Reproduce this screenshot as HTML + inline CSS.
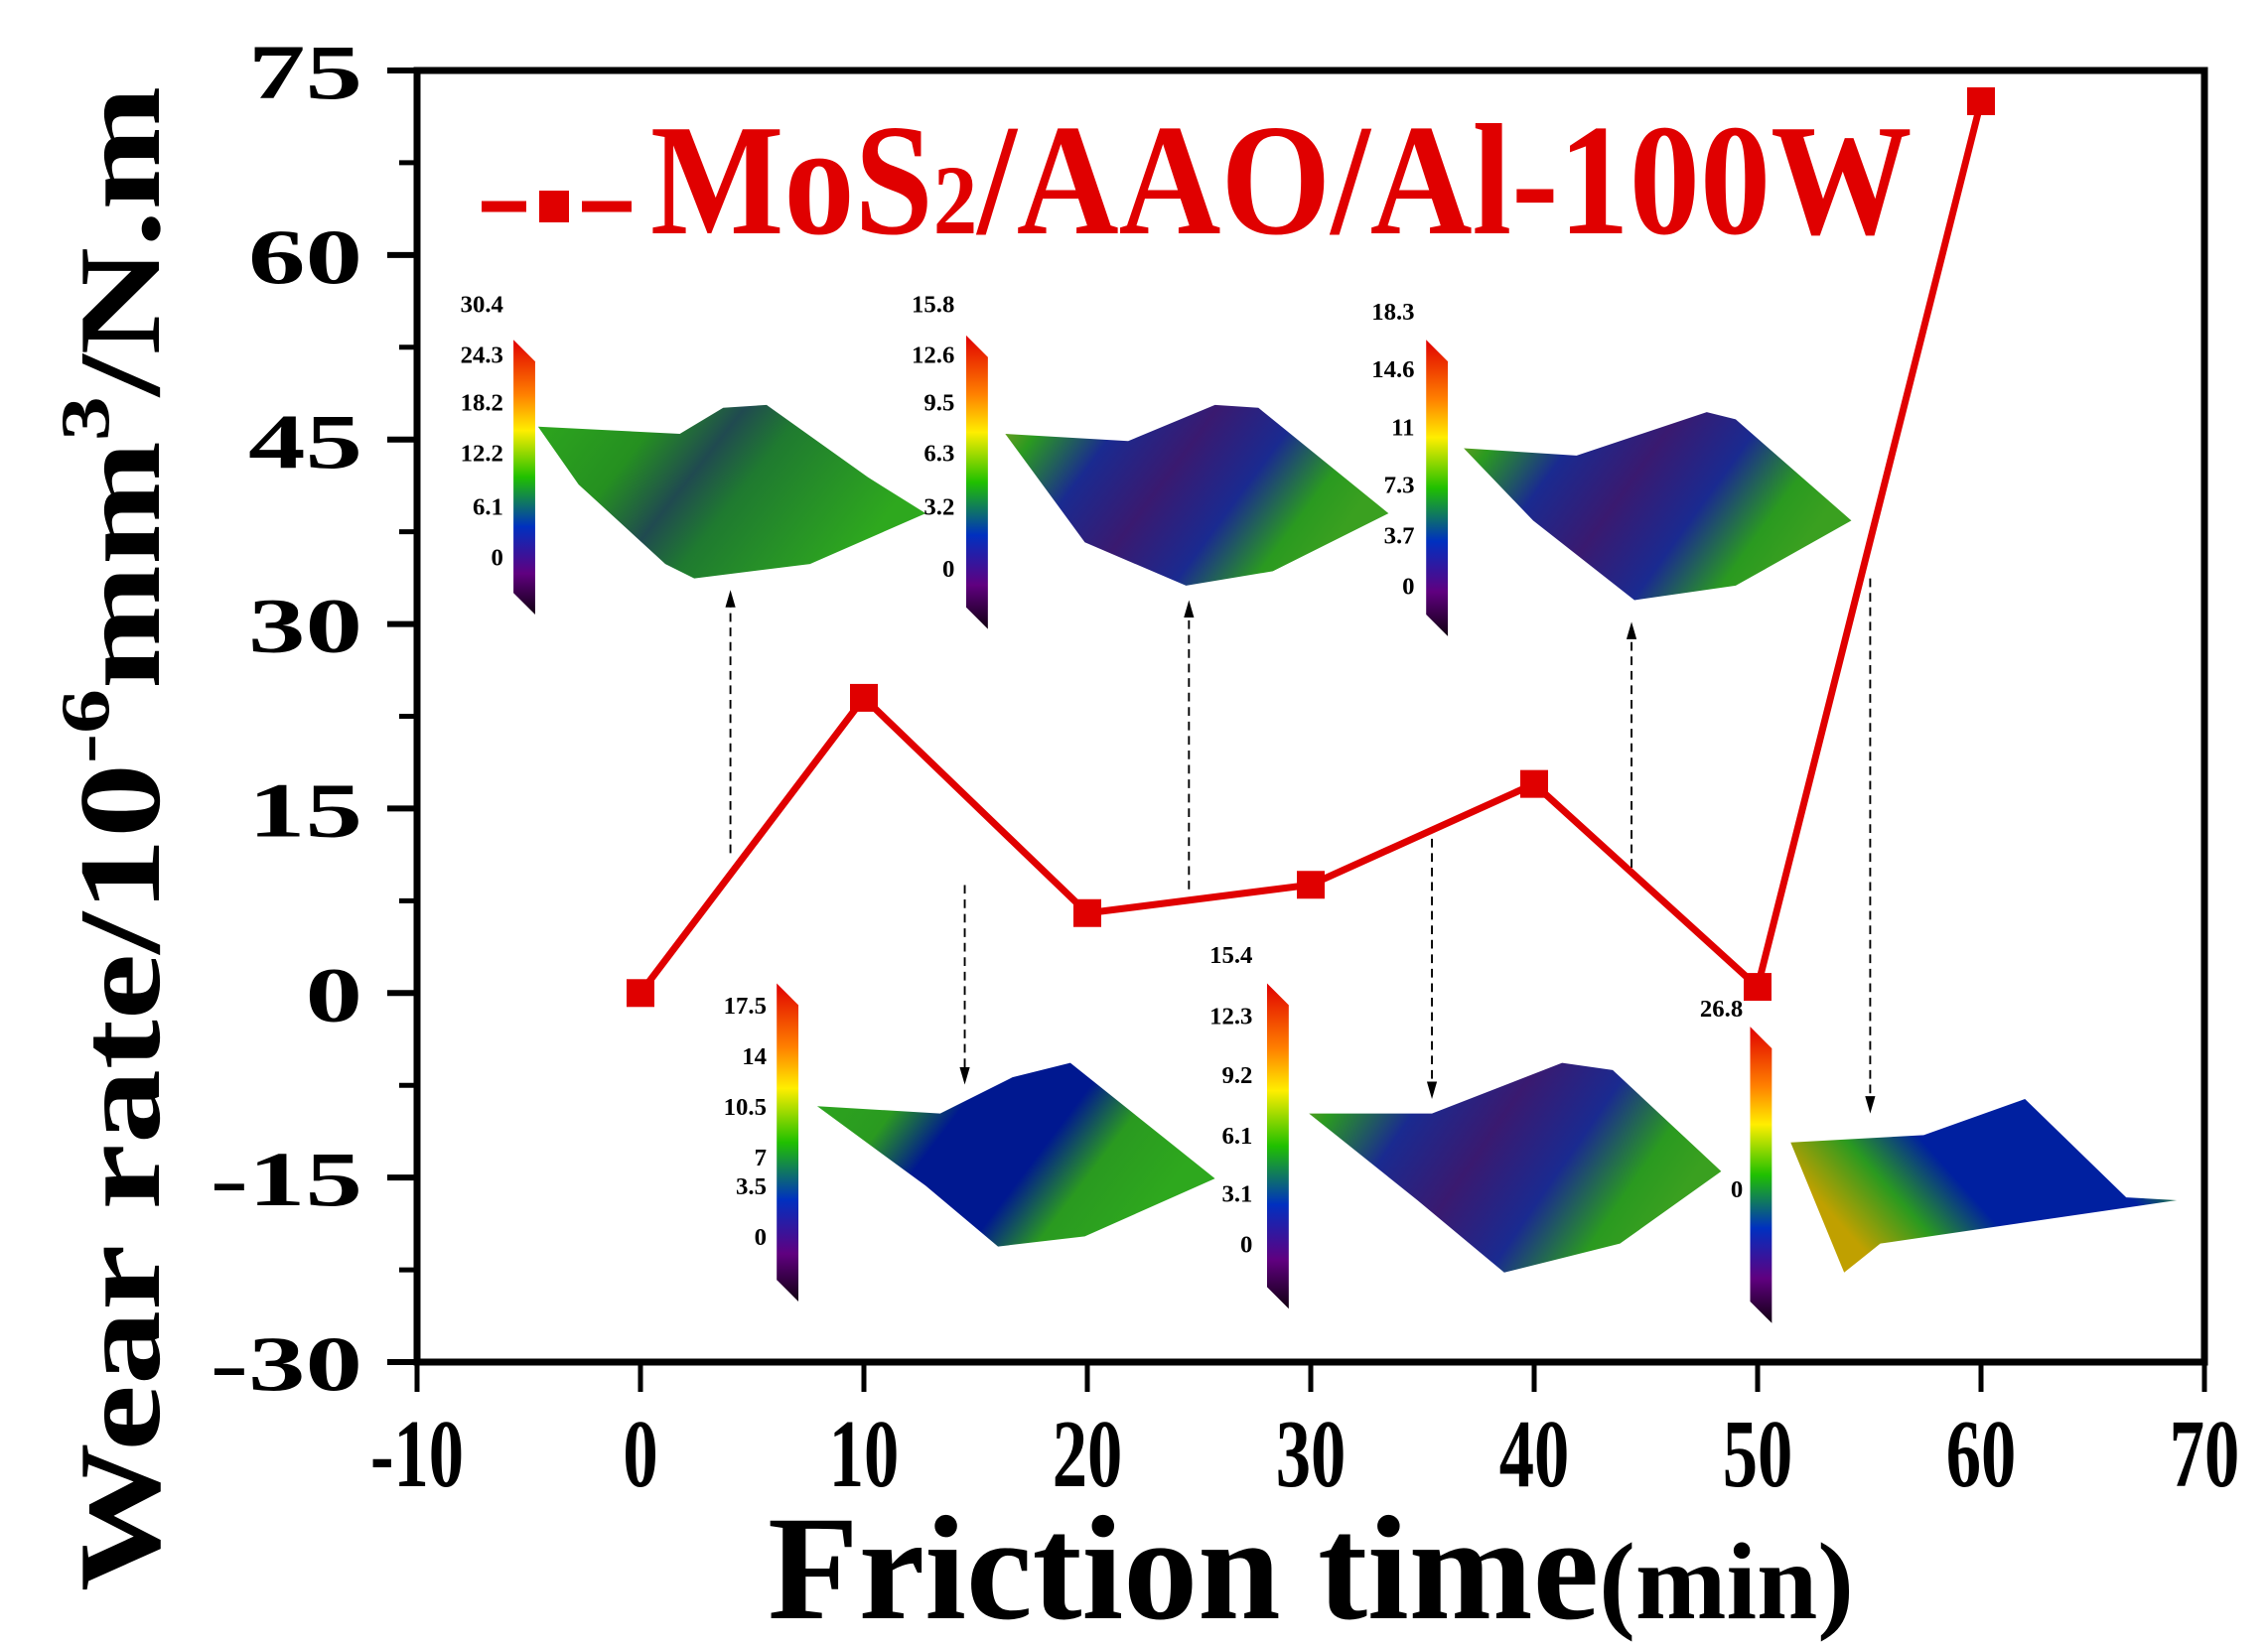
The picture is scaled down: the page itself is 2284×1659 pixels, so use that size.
<!DOCTYPE html>
<html><head><meta charset="utf-8"><style>
html,body{margin:0;padding:0;background:#fff;}
svg{display:block;}
text{font-family:"Liberation Serif",serif;font-weight:bold;}
</style></head><body>
<svg id="chart" width="2284" height="1659" viewBox="0 0 2284 1659" xmlns="http://www.w3.org/2000/svg">
<defs>
<linearGradient id="cbar" x1="0" y1="0" x2="0" y2="1">
<stop offset="0" stop-color="#e00000"/><stop offset="0.2" stop-color="#ff8000"/><stop offset="0.33" stop-color="#ffee00"/><stop offset="0.5" stop-color="#20c000"/><stop offset="0.68" stop-color="#0030c0"/><stop offset="0.85" stop-color="#600080"/><stop offset="1" stop-color="#100010"/>
</linearGradient>
<linearGradient id="surfA" x1="0" y1="0" x2="1" y2="0.35">
<stop offset="0" stop-color="#2ea81e"/><stop offset="0.3" stop-color="#259020"/><stop offset="0.48" stop-color="#204a50"/><stop offset="0.62" stop-color="#1f7a30"/><stop offset="1" stop-color="#2ea81e"/>
</linearGradient>
<linearGradient id="surfB" x1="0" y1="0" x2="1" y2="0.35">
<stop offset="0" stop-color="#8aa020"/><stop offset="0.12" stop-color="#2a9a20"/><stop offset="0.3" stop-color="#1a2a90"/><stop offset="0.5" stop-color="#3a1a70"/><stop offset="0.7" stop-color="#1a2a90"/><stop offset="0.88" stop-color="#2a9a20"/><stop offset="1" stop-color="#3aa020"/>
</linearGradient>
<linearGradient id="surfC" x1="0" y1="0" x2="1" y2="0.35">
<stop offset="0" stop-color="#2ea81e"/><stop offset="0.25" stop-color="#2a9a20"/><stop offset="0.4" stop-color="#001890"/><stop offset="0.65" stop-color="#001890"/><stop offset="0.8" stop-color="#2a9a20"/><stop offset="1" stop-color="#2ea81e"/>
</linearGradient>
<linearGradient id="surfD" x1="0" y1="0.4" x2="1" y2="0">
<stop offset="0" stop-color="#c0a000"/><stop offset="0.18" stop-color="#2a9a20"/><stop offset="0.35" stop-color="#0020a0"/><stop offset="0.7" stop-color="#0020a0"/><stop offset="0.85" stop-color="#2a9a20"/><stop offset="1" stop-color="#c0a030"/>
</linearGradient>
</defs>

<g id="insets" transform="scale(1.4566)"></g>
<g id="axes"></g>
<g id="series"></g>

<g>
<line x1="485" y1="208" x2="530" y2="208" stroke="#e00000" stroke-width="11"/>
<rect x="543" y="192" width="30" height="32" fill="#e00000"/>
<line x1="586" y1="208" x2="636" y2="208" stroke="#e00000" stroke-width="11"/>
<text x="655" y="235" font-size="160" fill="#e00000" transform="translate(655 0) scale(0.89 1) translate(-655 0)">MoS<tspan font-size="100">2</tspan>/AAO/Al-100W</text>
</g>

<text x="1320" y="1630" font-size="150" text-anchor="middle">Friction time<tspan font-size="110">(min)</tspan></text>
<text transform="translate(160 845) rotate(-90) scale(1 0.78)" font-size="150" text-anchor="middle">Wear rate/10<tspan font-size="90" dy="-65">-6</tspan><tspan dy="65">mm</tspan><tspan font-size="90" dy="-65">3</tspan><tspan dy="65">/N.m</tspan></text>
</svg>
<script>
const xCategories=[0,10,20,30,40,50,60];
const wearRate=[0,24,6.5,8.8,17,0.5,72.5];
const xTickLabels=["-10","0","10","20","30","40","50","60","70"];
const xTickValues=[-10,0,10,20,30,40,50,60,70];
const yTickLabels=["75","60","45","30","15","0","-15","-30"];
const yTickValues=[75,60,45,30,15,0,-15,-30];

const L=420,R=2220,T=71,B=1372;
const xMin=-10,xMax=70,yMin=-30,yMax=75;
const sx=v=>L+(v-xMin)/(xMax-xMin)*(R-L);
const sy=v=>B-(v-yMin)/(yMax-yMin)*(B-T);
const NS="http://www.w3.org/2000/svg";
function mk(tag,attrs,parent){const e=document.createElementNS(NS,tag);for(const k in attrs)e.setAttribute(k,attrs[k]);parent.appendChild(e);return e;}

const axes=document.getElementById('axes');
const frame=mk('rect',{x:L,y:T,width:R-L,height:B-T,fill:'none',stroke:'#000','stroke-width':7},axes);


xTickValues.forEach((v,i)=>{
  const t=mk('line',{x1:sx(v),y1:B,x2:sx(v),y2:B+30,stroke:'#000','stroke-width':5},axes);
  
  
  const lb=mk('text',{x:sx(v),y:1497,'font-size':98,'text-anchor':'middle',transform:`translate(${sx(v)} 0) scale(0.72 1) translate(${-sx(v)} 0)`},axes);
  lb.textContent=xTickLabels[i];
  
  
});
yTickValues.forEach((v,i)=>{
  const t=mk('line',{x1:L-30,y1:sy(v),x2:L,y2:sy(v),stroke:'#000','stroke-width':6},axes);
  
  
  if(v>yMin){const m=mk('line',{x1:L-18,y1:sy(v-7.5),x2:L,y2:sy(v-7.5),stroke:'#000','stroke-width':5},axes);
  
  }
  const lb=mk('text',{x:365,y:sy(v)+36,'font-size':100,'text-anchor':'end',transform:`translate(365 ${sy(v)}) scale(1.15 0.78) translate(-365 ${-sy(v)})`},axes);
  lb.textContent=yTickLabels[i];
  
  
});

const series=document.getElementById('series');
const pts=xCategories.map((x,i)=>sx(x)+','+sy(wearRate[i])).join(' ');
const line=mk('polyline',{points:pts,fill:'none',stroke:'#e00000','stroke-width':7,'stroke-linejoin':'miter'},series);


xCategories.forEach((x,i)=>{
  const p=mk('rect',{x:sx(x)-14,y:sy(wearRate[i])-14,width:28,height:28,fill:'#e00000'},series);
  
  
});

const g=document.getElementById('insets');
const insets=[
 {labels:["30.4","24.3","18.2","12.2","6.1","0"],ly:[210,245,278,313,350,385],lx:348,bx:355,by1:235,by2:425,fill:'url(#surfA)',
  poly:"372,295 470,300 500,282 530,280 600,330 640,355 560,390 480,400 460,390 400,335",arrow:[505,590,505,408]},
 {labels:["15.8","12.6","9.5","6.3","3.2","0"],ly:[210,245,278,313,350,393],lx:660,bx:668,by1:232,by2:435,fill:'url(#surfB)',
  poly:"695,300 780,305 840,280 870,282 960,355 880,395 820,405 750,375",arrow:[822,615,822,415]},
 {labels:["18.3","14.6","11","7.3","3.7","0"],ly:[215,255,295,335,370,405],lx:978,bx:986,by1:235,by2:440,fill:'url(#surfB)',
  poly:"1012,310 1090,315 1180,285 1200,290 1280,360 1200,405 1130,415 1060,360",arrow:[1128,600,1128,430]},
 {labels:["17.5","14","10.5","7","3.5","0"],ly:[695,730,765,800,820,855],lx:530,bx:537,by1:680,by2:900,fill:'url(#surfC)',
  poly:"565,765 650,770 700,745 740,735 840,815 750,855 690,862 640,820",arrow:[667,612,667,750]},
 {labels:["15.4","12.3","9.2","6.1","3.1","0"],ly:[660,702,743,785,825,860],lx:866,bx:876,by1:680,by2:905,fill:'url(#surfB)',
  poly:"905,770 990,770 1080,735 1115,740 1190,810 1120,860 1040,880 980,830",arrow:[990,580,990,760]},
 {labels:["26.8","0"],ly:[697,822],lx:1205,bx:1210,by1:710,by2:915,fill:'url(#surfD)',
  poly:"1238,790 1330,785 1400,760 1470,828 1505,830 1300,860 1275,880",arrow:[1293,400,1293,770]}
];
insets.forEach(o=>{
  const s=mk('polygon',{points:o.poly,fill:o.fill},g);
  
  
  const cb=mk('polygon',{points:`${o.bx},${o.by1} ${o.bx+15},${o.by1+15} ${o.bx+15},${o.by2} ${o.bx},${o.by2-15}`,fill:'url(#cbar)'},g);
  
  
  o.labels.forEach((t,i)=>{
    const tx=mk('text',{x:o.lx,y:o.ly[i]+6,'font-size':17,'text-anchor':'end'},g);
    tx.textContent=t;
    
    
  });
  const [x1,y1,x2,y2]=o.arrow;
  const up=y2<y1;
  const a=mk('line',{x1:x1,y1:y1,x2:x2,y2:y2+(up?8:-8),stroke:'#000','stroke-width':1.3,'stroke-dasharray':'6 4'},g);
  
  
  const d=up?-1:1;
  const h=mk('polygon',{points:`${x2},${y2} ${x2-3.5},${y2-12*d} ${x2+3.5},${y2-12*d}`,fill:'#000'},g);
  
  
});
</script>
</body></html>
